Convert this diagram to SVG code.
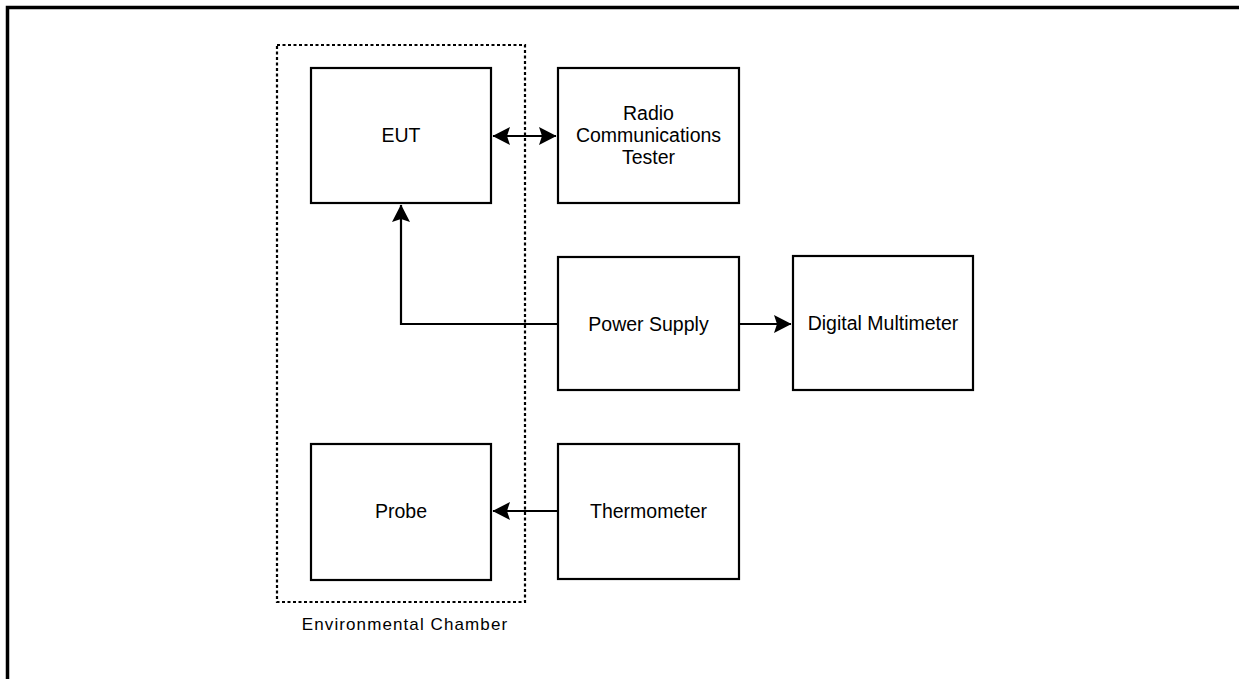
<svg xmlns="http://www.w3.org/2000/svg" width="1239" height="679" viewBox="0 0 1239 679">
<style>
.box{fill:#fff;stroke:#000;stroke-width:2.2}
.lbl{font-family:"Liberation Sans",Arial,sans-serif;font-size:19.5px;fill:#000;text-anchor:middle}
.cap{font-family:"Liberation Sans",Arial,sans-serif;font-size:17px;letter-spacing:1.1px;fill:#000;text-anchor:middle}
.wire{fill:none;stroke:#000;stroke-width:2.2}
</style>
<defs>
<marker id="ah" viewBox="0 0 18 18" refX="17" refY="9" markerWidth="18" markerHeight="18" markerUnits="userSpaceOnUse" orient="auto-start-reverse">
<path d="M17.5,9 L0,0 L3,9 L0,18 Z" fill="#000"/>
</marker>
</defs>
<rect width="1239" height="679" fill="#fff"/>
<g id="frame">
<path d="M7.5,679 V7.5 H1239" fill="none" stroke="#000" stroke-width="3.5"/>
</g>
<g id="chamber">
<rect x="277" y="45" width="248" height="557" fill="none" stroke="#000" stroke-width="2.2" stroke-dasharray="3,2.5"/>
<text class="cap" x="405" y="630">Environmental Chamber</text>
</g>
<g id="connectors">
<line class="wire" x1="493" y1="136" x2="556" y2="136" marker-start="url(#ah)" marker-end="url(#ah)"/>
<polyline class="wire" points="558,324 401,324 401,205" marker-end="url(#ah)"/>
<line class="wire" x1="739" y1="324" x2="791" y2="324" marker-end="url(#ah)"/>
<line class="wire" x1="558" y1="511" x2="493" y2="511" marker-end="url(#ah)"/>
</g>
<g id="eut">
<rect class="box" x="311" y="68" width="180" height="135"/>
<text class="lbl" x="401" y="142">EUT</text>
</g>
<g id="radio">
<rect class="box" x="558" y="68" width="181" height="135"/>
<text class="lbl" x="648.5" y="120">Radio</text>
<text class="lbl" x="648.5" y="142">Communications</text>
<text class="lbl" x="648.5" y="164">Tester</text>
</g>
<g id="power">
<rect class="box" x="558" y="257" width="181" height="133"/>
<text class="lbl" x="648.5" y="331">Power Supply</text>
</g>
<g id="dmm">
<rect class="box" x="793" y="256" width="180" height="134"/>
<text class="lbl" x="883" y="330">Digital Multimeter</text>
</g>
<g id="probe">
<rect class="box" x="311" y="444" width="180" height="136"/>
<text class="lbl" x="401" y="518">Probe</text>
</g>
<g id="thermo">
<rect class="box" x="558" y="444" width="181" height="135"/>
<text class="lbl" x="648.5" y="518">Thermometer</text>
</g>
</svg>
